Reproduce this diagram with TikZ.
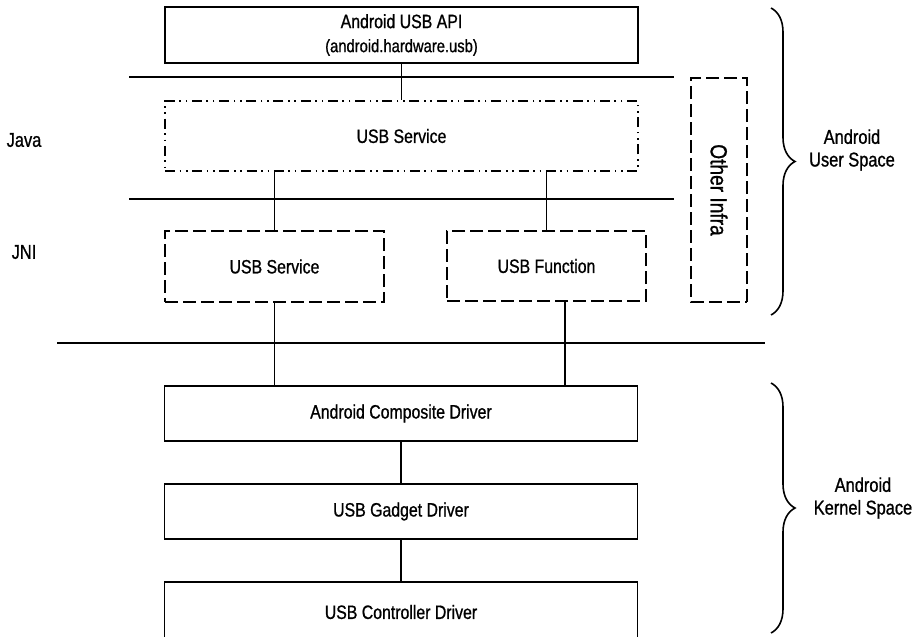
\documentclass[tikz,border=0pt]{standalone}
\usepackage{fontspec}
\setmainfont{Liberation Sans}[FakeStretch=0.82, FakeBold=0.9]
\usepackage{tikz}
\usetikzlibrary{decorations.pathreplacing}

\tikzset{
  caixa/.style={draw, line width=1.2pt, align=center, inner sep=0pt,
    font=\fontsize{14.5}{17}\selectfont},
  largo/.style={caixa, minimum width=354.75pt, minimum height=41.25pt},
  tracejado/.style={caixa, dash pattern=on 9.5pt off 4pt},
  pontilhado/.style={caixa, dash pattern=on 7.5pt off 3.5pt on 1.2pt off 3.5pt on 1.2pt off 3.5pt},
  linha/.style={line width=1.2pt},
  camada/.style={font=\fontsize{15}{17}\selectfont},
  layerbrace/.style={decorate, decoration={brace, amplitude=18pt}, line width=1.2pt},
  rotulo/.style={align=center, font=\fontsize{15}{17}\selectfont}
}

\begin{document}
\begin{tikzpicture}[x=0.75pt, y=-0.75pt]
        \useasboundingbox (0,0) rectangle (918,636);

        % Java
        \node[largo, minimum height=42pt] (api) at (401.5,35)
          {Android USB API\\[1pt]{\fontsize{13.5}{15}\selectfont(android.hardware.usb)}};
        \node[pontilhado, minimum width=354.75pt, minimum height=52.5pt] (javasvc) at (401.5,136) {USB Service};
        \draw[linha] (129,77) -- (674,77);
        \draw[linha] (129,199) -- (674,199);
        \node[camada] (java) at (24,140) {Java};

        % JNI
        \node[tracejado, minimum width=164.25pt, minimum height=53.25pt] (jnisvc) at (274.5,266.5) {USB Service};
        \node[tracejado, minimum width=149.25pt, minimum height=52.5pt] (usbfunc) at (546.5,266) {USB Function};
        \node[camada] (jni) at (24,252) {JNI};
        \node[tracejado, rotate=-90, minimum width=168pt, minimum height=42pt,
          font=\fontsize{17.5}{20}\selectfont] (infra) at (719,190) {Other Infra};

        \draw[linha] (57,343) -- (765,343);

        % Kernel
        \node[largo] (composite) at (401,413.5) {Android Composite Driver};
        \node[largo] (gadget) at (401,511.5) {USB Gadget Driver};
        \node[largo, minimum height=45pt] (controller) at (401,612) {USB Controller Driver};

        % ligacoes
        \draw[linha] (api) -- (javasvc);
        \draw[linha] (jnisvc.north) -- (jnisvc.north |- javasvc.south);
        \draw[linha] (usbfunc.north) -- (usbfunc.north |- javasvc.south);
        \draw[linha] (jnisvc.south) -- (jnisvc.south |- composite.north);
        \coordinate (funcout) at (565,301.5);
        \draw[linha] (funcout) -- (funcout |- composite.north);
        \draw[linha] (composite) -- (gadget);
        \draw[linha] (gadget) -- (controller);

        % chaves
        \draw[layerbrace] (771,8) -- (771,315);
        \node[rotulo] (userspace) at (852,150) {Android\\User Space};
        \draw[layerbrace] (771,383) -- (771,633);
        \node[rotulo] (kernelspace) at (863,498) {Android\\Kernel Space};
\end{tikzpicture}
\end{document}
